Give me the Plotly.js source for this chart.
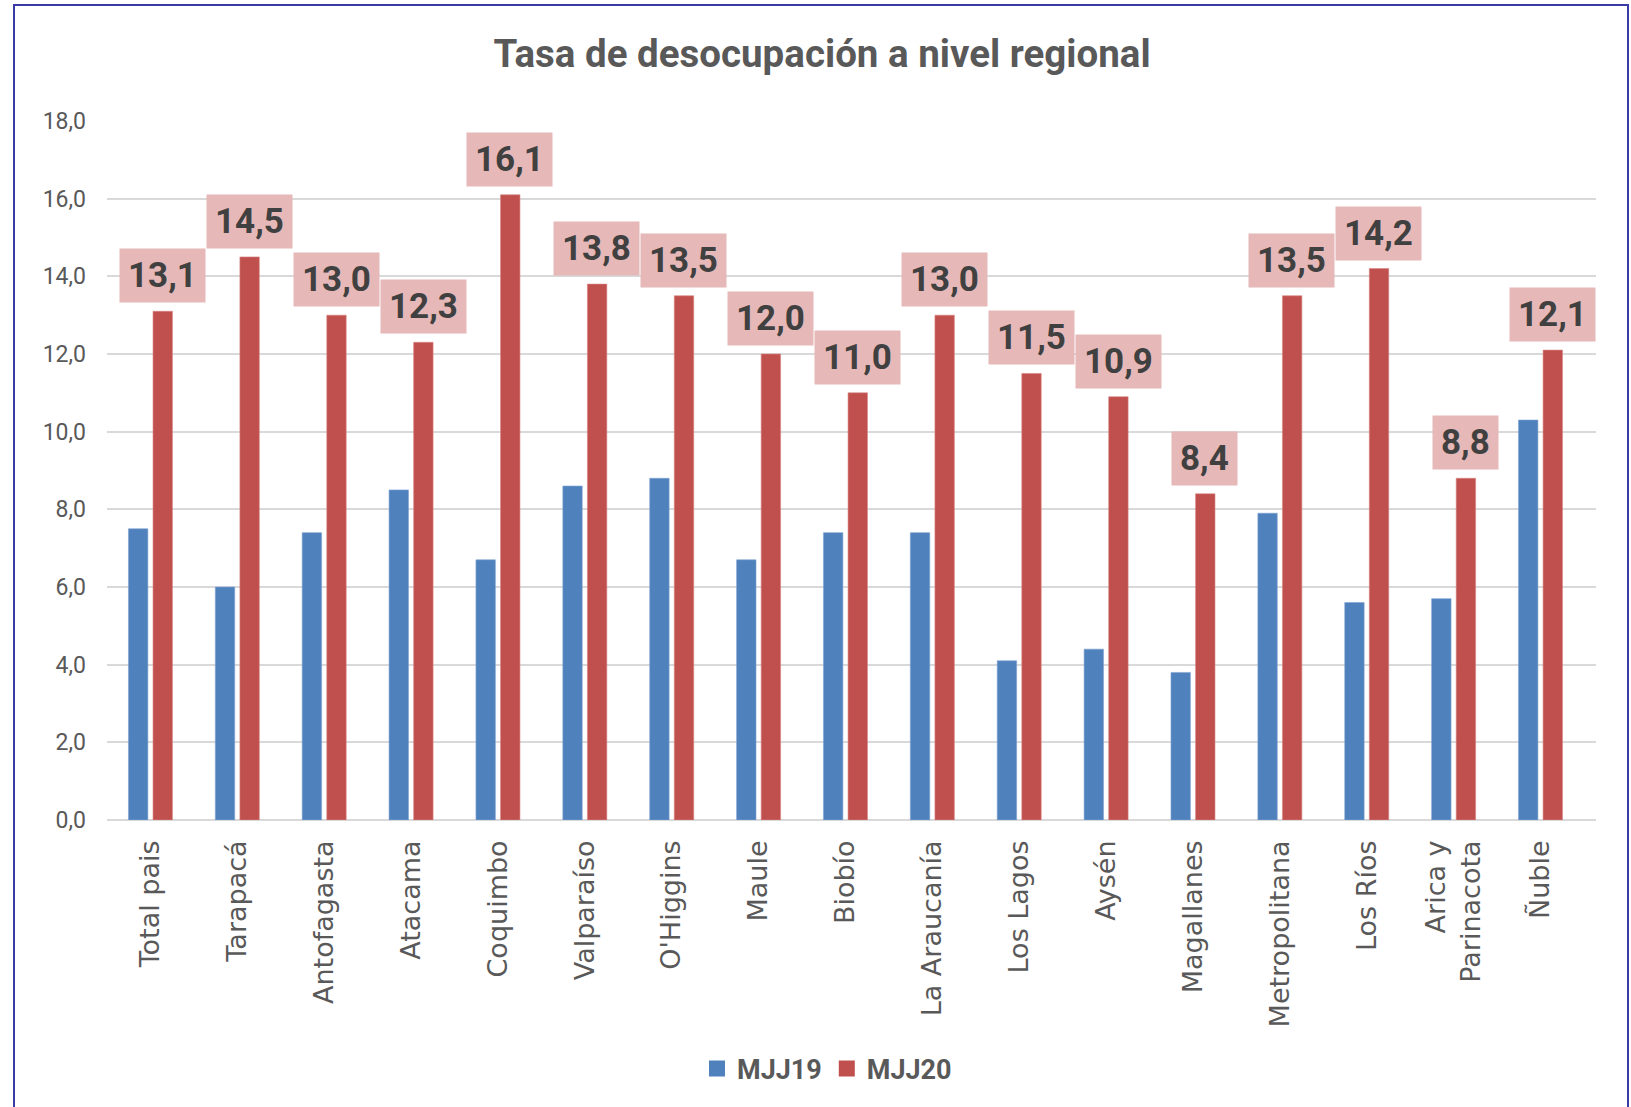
<!DOCTYPE html>
<html>
<head>
<meta charset="utf-8">
<script src="https://cdn.plot.ly/plotly-3.0.1.min.js"></script>
<style>
  html, body { margin: 0; padding: 0; background: #ffffff; }
  #chart { width: 1631px; height: 1107px; }
</style>
</head>
<body>
<div id="chart"></div>
<script>
// ---- Data ----
const regiones = [
  "Total pais", "Tarapacá", "Antofagasta", "Atacama", "Coquimbo", "Valparaíso",
  "O'Higgins", "Maule", "Biobío", "La Araucanía", "Los Lagos", "Aysén",
  "Magallanes", "Metropolitana", "Los Ríos", "Arica y<br>Parinacota", "Ñuble"
];
const mjj19 = [7.5, 6.0, 7.4, 8.5, 6.7, 8.6, 8.8, 6.7, 7.4, 7.4, 4.1, 4.4, 3.8, 7.9, 5.6, 5.7, 10.3];
const mjj20 = [13.1, 14.5, 13.0, 12.3, 16.1, 13.8, 13.5, 12.0, 11.0, 13.0, 11.5, 10.9, 8.4, 13.5, 14.2, 8.8, 12.1];
const serieNames = ["MJJ19", "MJJ20"];
const yTicks = [0, 2, 4, 6, 8, 10, 12, 14, 16, 18];
const chartTitle = "Tasa de desocupación a nivel regional";

// ---- Styles ----
const BLUE = "#4F81BD";
const RED = "#C0504D";
const GRAY_TXT = "#595959";

const traces = [
  {
    type: "bar", name: serieNames[0], x: regiones, y: mjj19, showlegend: false,
    marker: { color: BLUE, line: { color: "#7FA3D1", width: 0.6 } },
    hoverinfo: "x+y"
  },
  {
    type: "bar", name: serieNames[1], x: regiones, y: mjj20, showlegend: false,
    marker: { color: RED, line: { color: "#D98583", width: 0.6 } },
    hoverinfo: "x+y"
  },
  // legend entries (square swatches)
  {
    type: "scatter", mode: "markers", name: serieNames[0], x: [null], y: [null],
    marker: { symbol: "square", size: 18, color: BLUE }, showlegend: true
  },
  {
    type: "scatter", mode: "markers", name: serieNames[1], x: [null], y: [null],
    marker: { symbol: "square", size: 18, color: RED }, showlegend: true
  }
];

const fmt = v => v.toFixed(1).replace(".", ",");

const annotations = mjj20.map((v, i) => ({
  x: regiones[i], y: v, xref: "x", yref: "y",
  text: fmt(v), showarrow: false,
  xanchor: "center", yanchor: "bottom",
  xshift: 12, yshift: 8,
  bgcolor: "#E6B9B8", borderpad: 8, height: 37,
  font: { family: "Roboto, 'Liberation Sans', sans-serif", size: 35, color: "#404040", weight: 700 }
}));

const PL = 107, PR = 1596, PT = 121, PB = 820;
const pw = PR - PL, ph = PB - PT;
const px = X => (X - PL) / pw;
const py = Y => (PB - Y) / ph;

const layout = {
  width: 1631, height: 1107,
  margin: { l: PL, r: 1631 - PR, t: PT, b: 1107 - PB, pad: 0 },
  paper_bgcolor: "#ffffff", plot_bgcolor: "#ffffff",
  separators: ",.",
  barmode: "group", bargap: 0.434, bargroupgap: 0.21,
  title: {
    text: chartTitle,
    x: 822 / 1631, xanchor: "center", xref: "container",
    y: 1 - 54 / 1107, yanchor: "middle", yref: "container",
    font: { family: "Roboto, sans-serif", size: 38.5, color: GRAY_TXT, weight: 700 }
  },
  xaxis: {
    type: "category", tickangle: -90,
    tickfont: { family: "'DejaVu Sans', sans-serif", size: 27, color: GRAY_TXT },
    ticks: "", showline: false, showgrid: false,
    ticklabelstandoff: 14, automargin: false
  },
  yaxis: {
    range: [0, 18], tickvals: yTicks, tickformat: ".1f",
    tickfont: { family: "Roboto, sans-serif", size: 23, color: GRAY_TXT },
    showgrid: true, gridcolor: "#D9D9D9", gridwidth: 1.8,
    zeroline: true, zerolinecolor: "#D9D9D9", zerolinewidth: 2,
    showline: false, ticks: "", ticklabelstandoff: 20, automargin: false,
    fixedrange: true
  },
  showlegend: true,
  legend: {
    orientation: "h", x: px(827), xanchor: "center",
    y: py(1069), yanchor: "middle",
    font: { family: "Roboto, sans-serif", size: 27, color: GRAY_TXT, weight: 700 },
    itemclick: false, itemdoubleclick: false, tracegroupgap: 0
  },
  annotations: annotations,
  shapes: [{
    type: "rect", xref: "paper", yref: "paper",
    x0: px(14), x1: px(1628), y0: py(1130), y1: py(5),
    line: { color: "#3B3BA6", width: 2 }, fillcolor: "rgba(0,0,0,0)", layer: "above"
  }]
};

Plotly.newPlot("chart", traces, layout, { displayModeBar: false, staticPlot: true });
</script>
</body>
</html>
